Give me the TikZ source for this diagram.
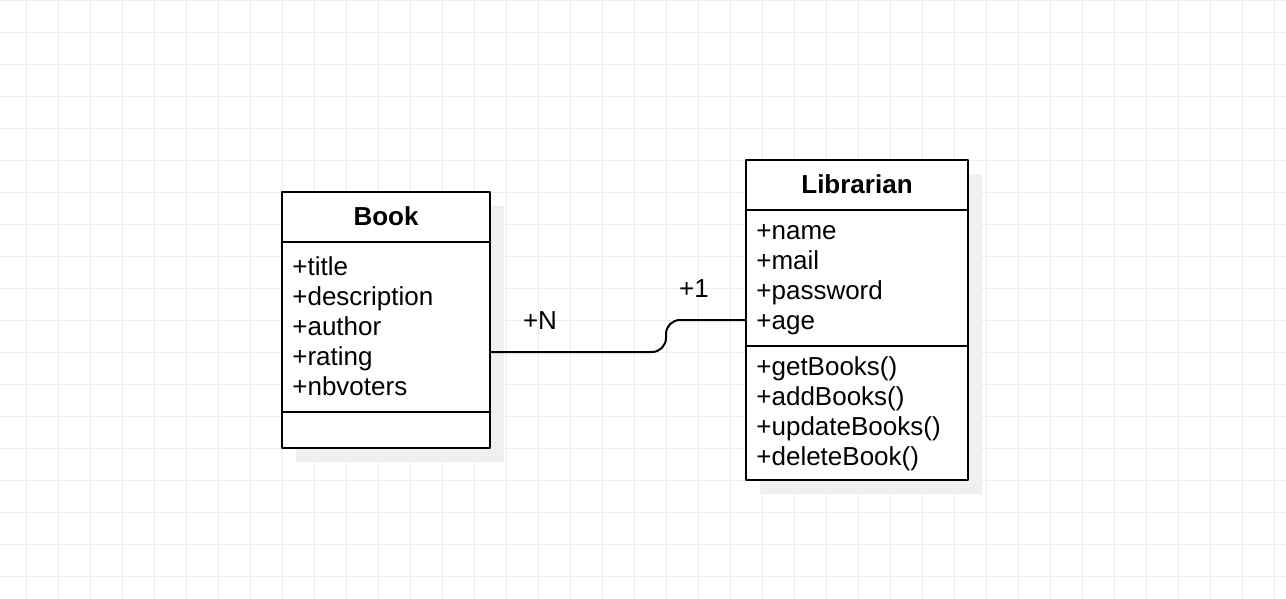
\documentclass[tikz,border=0pt]{standalone}
\usepackage{fontspec}
\setmainfont{Liberation Sans}
\begin{document}
\begin{tikzpicture}[x=0.5pt, y=-0.5pt, font=\fontsize{13pt}{15pt}\selectfont, line join=round, line cap=round,
	lop/.style={draw, line width=1pt, fill=white, inner sep=0pt, outer sep=0pt, anchor=north west},
	bong/.style={fill=black!6},
	chu/.style={anchor=base west, inner sep=0pt},
	tieude/.style={anchor=base, inner sep=0pt, font=\fontsize{13pt}{15pt}\selectfont\bfseries}]
	\def\w{1286} \def\h{599} % rộng, cao của khung
	\useasboundingbox (0,0) rectangle (\w,\h);
	\foreach \x in {26.5,58.5,...,1286} \draw[black!7, line width=0.5pt] (\x,0)--(\x,\h); % lưới dọc
	\foreach \y in {0.5,32.5,...,599} \draw[black!7, line width=0.5pt] (0,\y)--(\w,\y); % lưới ngang
	\fill[bong] (296,206) rectangle (504,462); % bóng Book
	\fill[bong] (760,174) rectangle (982,494); % bóng Librarian
	\node[lop, minimum width=104pt, minimum height=128pt] (book) at (282,192) {};
	\node[lop, minimum width=111pt, minimum height=160pt] (lib) at (746,160) {};
	\draw[line width=1pt] (book.west |- 0,242)--(book.east |- 0,242) (book.west |- 0,412)--(book.east |- 0,412);
	\draw[line width=1pt] (lib.west |- 0,210)--(lib.east |- 0,210) (lib.west |- 0,346)--(lib.east |- 0,346);
	\node[tieude] (tenbook) at (386,225.5) {Book};
	\node[tieude] (tenlib) at (857,193.5) {Librarian};
	\foreach \y/\ten in {275/title,305/description,335/author,365/rating,395/nbvoters}
	\node[chu] (b\y) at (292,\y) {+\ten};
	\foreach \y/\ten in {239.5/name,269.5/mail,299.5/password,329.5/age}
	\node[chu] (l\y) at (756,\y) {+\ten};
	\foreach \y/\ten in {375.5/getBooks,405.5/addBooks,435.5/updateBooks,465.5/deleteBook}
	\node[chu] (m\y) at (756,\y) {+\ten()};
	\draw[line width=1pt, rounded corners=7pt] ([yshift=-16pt]book.east) -- ++(176,0) |- (lib.west); % liên kết
	\node[anchor=base, inner sep=0pt] (nhieu) at (540,329) {+N};
	\node[anchor=base, inner sep=0pt] (mot) at (694,297) {+1};
\end{tikzpicture}
\end{document}
